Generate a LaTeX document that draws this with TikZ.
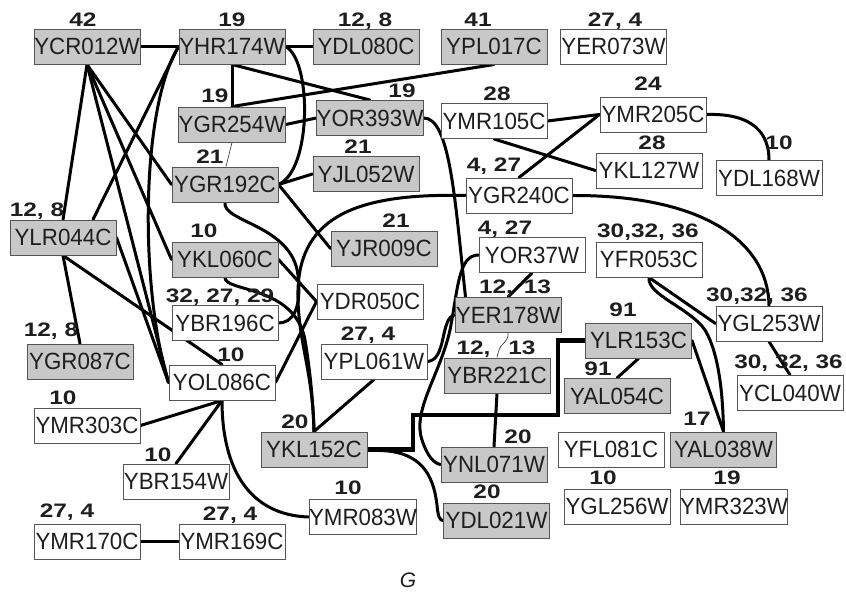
\documentclass[tikz,border=0pt]{standalone}
\usepackage{fontspec}
\setmainfont{Liberation Sans}
\newfontfamily\boxfont[FakeStretch=0.95]{Liberation Sans}
\newfontfamily\labfont[FakeStretch=1.25]{Liberation Sans Bold}
\newfontfamily\gfont{Liberation Sans Italic}
\usetikzlibrary{calc}
\definecolor{boxgray}{RGB}{200,200,200}
\definecolor{boxline}{RGB}{85,85,85}
\definecolor{txt}{RGB}{30,30,30}
\pgfdeclarelayer{edgelayer}
\pgfsetlayers{edgelayer,main}
\begin{document}
\begin{tikzpicture}[x=1pt,y=-1pt,
  gbox/.style={draw=boxline, line width=1pt, fill=boxgray, minimum width=106pt, minimum height=35pt, inner sep=0pt, text=txt, font=\boxfont\fontsize{23.5}{23.5}\selectfont},
  wbox/.style={gbox, fill=white},
  lab/.style={text=txt, font=\labfont\fontsize{19.5}{19.5}\selectfont, inner sep=0pt, anchor=base},
  con/.style={line width=3pt, black, line cap=round},
  fine/.style={line width=0.7pt, black!75},
  heavy/.style={line width=4.2pt, black},
]
\useasboundingbox (0,0) rectangle (846,592);
% nodes
\node[gbox] (YCR) at (87,46.5) {YCR012W};
\node[gbox] (YHR) at (232,46.5) {YHR174W};
\node[gbox] (YDL080) at (366,46.5) {YDL080C};
\node[gbox] (YPL017) at (494,46.5) {YPL017C};
\node[wbox] (YER073) at (613.5,46.5) {YER073W};
\node[gbox] (YGR254) at (232,124.5) {YGR254W};
\node[gbox] (YOR393) at (370,118) {YOR393W};
\node[wbox] (YMR105) at (494,121) {YMR105C};
\node[wbox] (YMR205) at (653,114.5) {YMR205C};
\node[wbox] (YKL127) at (649,170.5) {YKL127W};
\node[wbox] (YDL168) at (769,178) {YDL168W};
\node[gbox] (YGR192) at (225,184.5) {YGR192C};
\node[gbox] (YJL052) at (366,174) {YJL052W};
\node[wbox] (YGR240) at (519,195.5) {YGR240C};
\node[gbox] (YLR044) at (63,237.5) {YLR044C};
\node[gbox] (YKL060) at (225,259.5) {YKL060C};
\node[gbox] (YJR009) at (384,248.5) {YJR009C};
\node[wbox] (YOR37) at (532,255) {YOR37W};
\node[wbox] (YFR053) at (649,259.5) {YFR053C};
\node[wbox] (YDR050) at (370,301.5) {YDR050C};
\node[wbox] (YBR196) at (225,323) {YBR196C};
\node[gbox] (YER178) at (508,315) {YER178W};
\node[wbox] (YGL253) at (769,323.5) {YGL253W};
\node[gbox] (YGR087) at (80,361.5) {YGR087C};
\node[wbox] (YPL061) at (374,361.5) {YPL061W};
\node[gbox] (YBR221) at (497,375.5) {YBR221C};
\node[gbox] (YLR153) at (638.5,340.5) {YLR153C};
\node[wbox] (YCL040) at (790,393) {YCL040W};
\node[wbox] (YOL086) at (222,382.5) {YOL086C};
\node[gbox] (YAL054) at (617,396) {YAL054C};
\node[wbox] (YMR303) at (87,425.5) {YMR303C};
\node[gbox] (YKL152) at (314,449.5) {YKL152C};
\node[wbox] (YFL081) at (611,449.5) {YFL081C};
\node[gbox] (YAL038) at (723.5,449.5) {YAL038W};
\node[gbox] (YNL071) at (494,464.5) {YNL071W};
\node[wbox] (YBR154) at (176,481.5) {YBR154W};
\node[wbox] (YMR083) at (363,517) {YMR083W};
\node[gbox] (YDL021) at (496.5,520.5) {YDL021W};
\node[wbox] (YGL256) at (617,506.5) {YGL256W};
\node[wbox] (YMR323) at (734,506.5) {YMR323W};
\node[wbox] (YMR170) at (87,541.5) {YMR170C};
\node[wbox] (YMR169) at (232,541.5) {YMR169C};
% labels
\node[lab] (l1) at (83,26) {42};
\node[lab] (l2) at (232,26) {19};
\node[lab] (l3) at (365,26) {12, 8};
\node[lab] (l4) at (478,26) {41};
\node[lab] (l5) at (615,26) {27, 4};
\node[lab] (l6) at (215,102) {19};
\node[lab] (l7) at (402,97) {19};
\node[lab] (l8) at (497,100) {28};
\node[lab] (l9) at (648,90) {24};
\node[lab] (l10) at (652,149) {28};
\node[lab] (l11) at (779,149) {10};
\node[lab] (l12) at (210,163) {21};
\node[lab] (l13) at (358,153) {21};
\node[lab] (l14) at (494,171) {4, 27};
\node[lab] (l15) at (37,216) {12, 8};
\node[lab] (l16) at (204,237) {10};
\node[lab] (l17) at (396,227) {21};
\node[lab] (l18) at (505,234) {4, 27};
\node[lab] (l19) at (648,237) {30,32, 36};
\node[lab] (l20) at (220,302) {32, 27, 29};
\node[lab] (l21) at (515,293) {12,\hspace{11pt}13};
\node[lab] (l22) at (757,301) {30,32, 36};
\node[lab] (l23) at (51,336) {12, 8};
\node[lab] (l24) at (368,340) {27, 4};
\node[lab] (l25) at (496,354) {12,\hspace{18pt}13};
\node[lab] (l26) at (623,316) {91};
\node[lab, anchor=base east] (l27) at (843,368) {30, 32, 36};
\node[lab] (l28) at (231,361) {10};
\node[lab] (l29) at (598,375) {91};
\node[lab] (l30) at (63,404) {10};
\node[lab] (l31) at (295,428) {20};
\node[lab] (l32) at (697,425) {17};
\node[lab] (l33) at (518,443) {20};
\node[lab] (l34) at (158,461) {10};
\node[lab] (l35) at (348,494) {10};
\node[lab] (l36) at (487,498) {20};
\node[lab] (l37) at (603,484) {10};
\node[lab] (l38) at (727,484) {19};
\node[lab] (l39) at (67,517) {27, 4};
\node[lab] (l40) at (230,520) {27, 4};
\node[text=txt, font=\gfont\fontsize{21}{21}\selectfont, inner sep=0pt, anchor=base] (gcap) at (408,587) {G};
% edges
\begin{pgfonlayer}{edgelayer}
\fill[white] (0,0) rectangle (846,592);
\draw[con] (YCR.east) -- (YHR.west);
\draw[con] (YHR.east) -- (YDL080.west);
\draw[con] (YCR.south) -- (YLR044.north);
\draw[con] (YCR.south) -- (YGR192.west);
\draw[con] (YCR.south) -- (YKL060.west);
\draw[con] (YCR.south) -- (YOL086.west);
\draw[con] (YHR.west) -- ($(YLR044.north)+(30,0)$);
\draw[con] (YHR.west) .. controls (140,110) and (140,290) .. (YOL086.west);
\draw[con] (YHR.east) .. controls (312,60) and (312,170) .. (YGR192.east);
\draw[con] (YHR.south) -- (YGR254.north);
\draw[con] (YHR.south) -- (YOR393.north);
\draw[con] (YGR254.north) -- (YPL017.south);
\draw[con] (YGR254.east) -- (YOR393.west);
\draw[fine] ($(YGR254.south)+(0,0)$) -- ($(YGR192.north)+(1,0)$);
\draw[con] (YOR393.east) .. controls (450,118) and (455,200) .. ($(YER178.north west)+(11,0)$);
\draw[con] (YMR105.east) -- (YMR205.west);
\draw[con] (YMR105.south) -- (YKL127.west);
\draw[con] (YGR240.north) -- (YMR205.west);
\draw[con] (YMR205.east) .. controls (755,113) and (769,135) .. (YDL168.north);
\draw[con] (YGR192.east) -- (YJL052.west);
\draw[con] (YGR192.east) -- (YJR009.west);
\draw[con] (YGR192.south) .. controls (222,222) and (292,225) .. (298,275) .. controls (302,310) and (292,323) .. (YBR196.east);
\draw[con] (YLR044.south) -- (YGR087.north);
\draw[con] (YLR044.east) -- (YOL086.west);
\draw[con] (YLR044.south) -- (YOL086.north);
\draw[con] (YKL060.east) -- (YDR050.west);
\draw[con] (YOL086.east) -- (YDR050.west);
\draw[con] (YKL060.south) .. controls (224,292) and (295,285) .. (305,340) .. controls (310,370) and (313,400) .. (YKL152.north);
\draw[con] (YGR240.west) .. controls (360,193) and (300,215) .. (298,290) .. controls (297,340) and (313,370) .. (YKL152.north);
\draw[con] (YKL152.north) -- (YPL061.south);
\draw[con] (YOR37.south) -- (YER178.north);
\draw[con] (YOR37.west) .. controls (458,255) and (458,290) .. (450,330) .. controls (440,375) and (412,410) .. (422,440) .. controls (427,455) and (433,463) .. (YNL071.west);
\draw[con] (YPL061.east) .. controls (447,360) and (440,318) .. (YER178.west);
\draw[fine] (YER178.south) .. controls (509,342) and (500,344) .. (499,350) .. controls (498,354) and (497,356) .. (YBR221.north);
\draw[con] (YBR221.south) -- (YNL071.north);
\draw[heavy] (YLR153.west) -| (558,415) -| (413,449.5) -- (YKL152.east);
\draw[con] (YKL152.east) -- (388,451) .. controls (425,455) and (434,480) .. (437,505) .. controls (438,517) and (440,520.5) .. (YDL021.west);
\draw[con] (YOL086.south) -- (YMR303.east);
\draw[con] (YOL086.south) -- (YBR154.north);
\draw[con] (YOL086.south) .. controls (222,470) and (250,515) .. (YMR083.west);
\draw[con] (YMR170.east) -- (YMR169.west);
\draw[con] (YLR153.south) -- (YAL054.north);
\draw[con] (YLR153.east) -- (YAL038.north);
\draw[con] (YFR053.south) -- (YGL253.west);
\draw[con] (YFR053.south) .. controls (647,295) and (690,308) .. (705,330) .. controls (720,355) and (723,400) .. (YAL038.north);
\draw[con] (YGL253.south) -- (YCL040.north);
\draw[con] (YGR240.east) .. controls (700,195) and (768,240) .. (YGL253.north);
\end{pgfonlayer}
\end{tikzpicture}
\end{document}
